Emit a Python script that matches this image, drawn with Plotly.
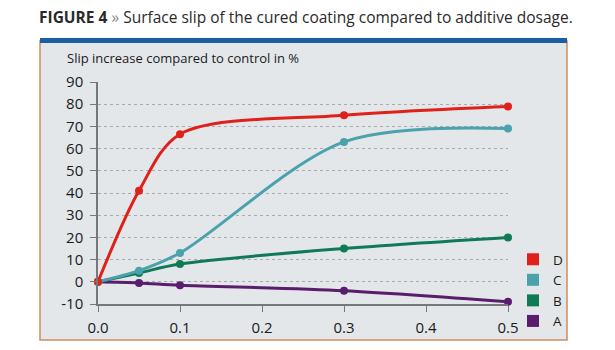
import plotly.graph_objects as go

dosage = [0.0, 0.05, 0.1, 0.3, 0.5]
series_names = ["D", "C", "B", "A"]
D = [0, 41, 66.5, 75, 79]
C = [0, 5, 13, 63, 69]
B = [0, 4, 8, 15, 20]
A = [0, -0.5, -1.5, -4, -9]
colors = {"D": "#e0201b", "C": "#4ba2ad", "B": "#0f7b56", "A": "#5a1c6c"}
values = {"D": D, "C": C, "B": B, "A": A}
x_ticks = [0.0, 0.1, 0.2, 0.3, 0.4, 0.5]
y_ticks = list(range(-10, 91, 10))

W, H = 615, 350
L, R, T, Bm = 98, 107, 82, 46

fig = go.Figure()
for name in ["A", "B", "C", "D"]:
    fig.add_trace(go.Scatter(
        x=dosage, y=values[name], mode="lines+markers",
        line=dict(color=colors[name], width=3, shape="spline", smoothing=0.9),
        marker=dict(color=colors[name], size=8),
        showlegend=False, hoverinfo="skip", cliponaxis=False))
for name in series_names:
    fig.add_trace(go.Scatter(
        x=[None], y=[None], mode="markers", name=name,
        marker=dict(color=colors[name], size=12, symbol="square"),
        showlegend=True))

pw = W - L - R
ph = H - T - Bm
def px(xp):
    return (xp - L) / pw
def py(yp):
    return (H - Bm - yp) / ph

shapes = [
    dict(type="rect", xref="paper", yref="paper",
         x0=px(40), x1=px(567), y0=py(340), y1=py(41),
         fillcolor="#e4e7ea", line=dict(color="#d48a5e", width=1.5), layer="below"),
    dict(type="rect", xref="paper", yref="paper",
         x0=px(40), x1=px(567), y0=py(43), y1=py(38),
         fillcolor="#1a5fa6", line=dict(width=0), layer="below"),
]

annotations = [
    dict(text="<b>FIGURE 4</b> <span style='color:#888'>»</span> Surface slip of the cured coating compared to additive dosage.",
         xref="paper", yref="paper", x=px(37), y=py(17), xanchor="left", yanchor="middle",
         showarrow=False, font=dict(family="Open Sans", size=15.5, color="#2a2a2a")),
    dict(text="Slip increase compared to control in %",
         xref="paper", yref="paper", x=px(65), y=py(58), xanchor="left", yanchor="middle",
         showarrow=False, font=dict(family="Open Sans", size=13, color="#1a1a1a")),
]

fig.update_layout(
    width=W, height=H,
    margin=dict(l=L, r=R, t=T, b=Bm, autoexpand=False),
    paper_bgcolor="white", plot_bgcolor="rgba(0,0,0,0)",
    shapes=shapes, annotations=annotations,
    font=dict(family="Open Sans", color="#1a1a1a", size=15),
    legend=dict(x=px(513), y=py(244), xanchor="left", yanchor="top",
                bgcolor="rgba(0,0,0,0)", font=dict(size=13.5), itemsizing="constant",
                tracegroupgap=0, itemwidth=30),
    xaxis=dict(range=[0, 0.5], tickvals=x_ticks, ticktext=[f"{v:.1f}" for v in x_ticks],
               showgrid=False, zeroline=False, showline=True, linecolor="#777", linewidth=1.5,
               ticks="outside", ticklen=6, tickcolor="#777", ticklabelstandoff=3),
    yaxis=dict(range=[-10, 90], tickvals=y_ticks, ticktext=[str(v) for v in y_ticks],
               showgrid=True, gridcolor="#a8abae",
               griddash="dot", gridwidth=1, zeroline=False, showline=True, linecolor="#777",
               linewidth=1.5, ticks="outside", ticklen=6, tickcolor="#777",
               ticklabelstandoff=4),
)

fig.write_html("out.html")
